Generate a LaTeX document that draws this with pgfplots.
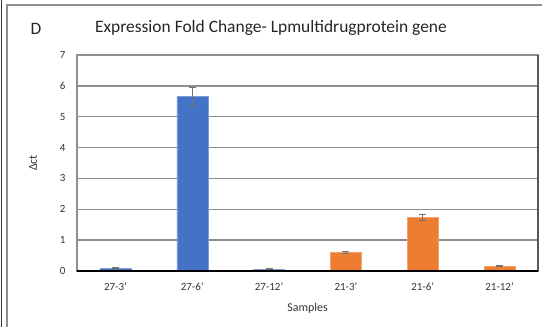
\documentclass[border=0pt]{standalone}
\usepackage{pgfplots}
\pgfplotsset{compat=1.18}
\usepackage{fontspec}
\setmainfont{Carlito}
\definecolor{cblue}{HTML}{4472C4}
\definecolor{corange}{HTML}{ED7D31}
\definecolor{gridc}{HTML}{8E8E8E}
\begin{document}
\begin{tikzpicture}[x=1bp,y=1bp]
\useasboundingbox (0,0) rectangle (542,327);
\draw[gridc, line width=1.2bp] (7,0) -- (7,322) -- (542,322);
\draw[black!80, line width=1.2bp] (1.5,0) -- (1.5,327);
\node[font=\fontsize{17.5}{20}\selectfont, text=black!85] at (36,298) {D};
\node[font=\fontsize{17.5}{20}\selectfont, text=black!85] at (271,299) {Expression Fold Change- Lpmultidrugprotein gene};
\begin{axis}[
  at={(77bp,56bp)}, anchor=south west,
  scale only axis, width=461bp, height=216bp,
  xmin=-0.5, xmax=5.5, ymin=0, ymax=7,
  xtick={0,1,2,3,4,5},
  xticklabels={27-3',27-6',27-12',21-3',21-6',21-12'},
  ytick={0,1,2,3,4,5,6,7},
  ymajorgrids, major grid style={gridc, line width=1.3bp},
  axis line style={gridc, line width=1.3bp},
  tick style={draw=none},
  tick label style={font=\fontsize{11}{12}\selectfont, text=black!80},
  xticklabel style={yshift=-8bp},
  yticklabel style={xshift=-8bp},
  /pgf/number format/assume math mode=true,
  xlabel={Samples}, ylabel={Δct},
  label style={font=\fontsize{12}{13}\selectfont, text=black!80},
  xlabel style={yshift=-6bp},
  ylabel style={yshift=16bp},
  bar width=31bp,
  clip=false,
]
\addplot[ybar, bar shift=0pt, fill=cblue, draw=cblue!70!white,
  error bars/.cd, y dir=both, y explicit,
  error bar style={black!55, line width=1bp},
  error mark options={rotate=90, black!55, mark size=3.5bp, line width=1bp}]
  coordinates {(0,0.09) +- (0,0.02) (1,5.66) +- (0,0.29) (2,0.06) +- (0,0.015)};
\addplot[ybar, bar shift=0pt, fill=corange, draw=corange!70!white,
  error bars/.cd, y dir=both, y explicit,
  error bar style={black!55, line width=1bp},
  error mark options={rotate=90, black!55, mark size=3.5bp, line width=1bp}]
  coordinates {(3,0.60) +- (0,0.03) (4,1.74) +- (0,0.09) (5,0.16) +- (0,0.02)};
\draw[black!65, line width=1.3bp] (axis cs:5.5,0) -- (axis cs:5.5,7);
\draw[black, line width=1.3bp] (axis cs:-0.5,0) -- (axis cs:5.5,0);
\end{axis}
\end{tikzpicture}
\end{document}
